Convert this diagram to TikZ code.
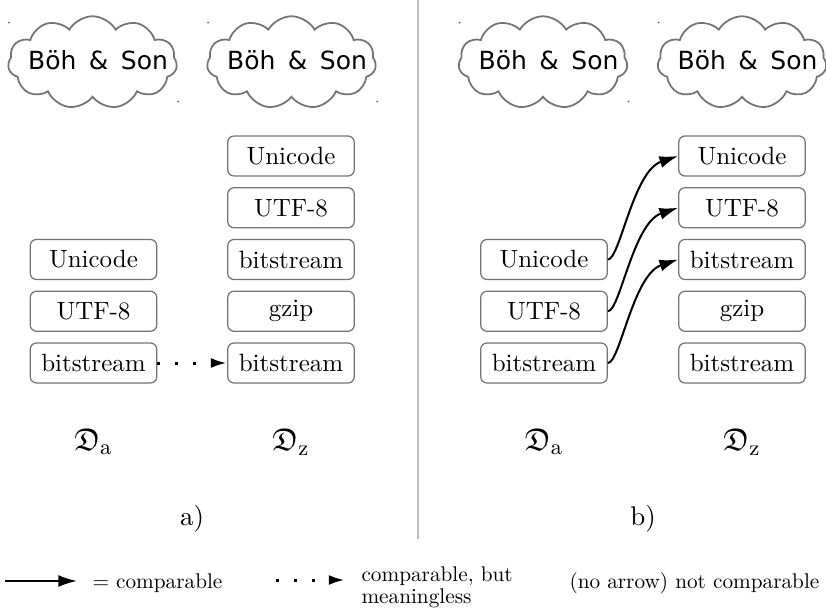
\documentclass[tikz,border=0pt]{standalone}
\usepackage{amssymb}
\usepackage{fontspec}
\newfontfamily\cloudfont{DejaVu Sans}
\usetikzlibrary{shapes.symbols,arrows.meta}
\newcommand{\legscale}[1]{\scalebox{0.85}{#1}}
\begin{document}
\begin{tikzpicture}[x=0.4pt,y=-0.4pt,
  layer/.style={draw=black!55, line width=0.5pt, rounded corners=2.5pt,
    minimum width=50.6pt, minimum height=16pt, inner sep=0pt,
    font=\fontsize{10}{12}\selectfont},
  puff/.style={cloud, cloud puffs=11, cloud puff arc=120, cloud ignores aspect,
    draw=black!55, line width=0.7pt, minimum width=67.6pt, minimum height=37pt, inner sep=0pt},
  brand/.style={font=\cloudfont\fontsize{10}{12}\selectfont, inner sep=0pt},
  cornerdot/.style={circle, fill=black!60, inner sep=0pt, minimum size=0.8pt},
  dlabel/.style={font=\fontsize{12.5}{15}\selectfont},
  panel/.style={font=\fontsize{10.8}{13}\selectfont},
  legtext/.style={font=\fontsize{10}{12}\selectfont, inner sep=0pt},
  cmp/.style={-{Latex[length=7.5pt,width=4.8pt]}, line width=0.8pt},
  nocmp/.style={-{Latex[length=6.5pt,width=4pt]}, line width=1.2pt, dash pattern=on 1.2pt off 6pt},
  sepline/.style={draw=black!25, line width=0.8pt}
]
\useasboundingbox (0,0) rectangle (826,613);

% separator
\draw[sepline] (418,0) -- (418,539);

% clouds
\foreach \cx/\nm in {92.5/ca, 291.5/cb, 543/cc, 742/cd}{
  \node[puff] (\nm) at (\cx,62.5) {};
  \node[brand] (\nm t) at (\cx+5.5,60) {B\"oh\hspace{5pt}\&\hspace{5pt}Son};
  \node[cornerdot] (\nm d1) at (\cx-83.5,22.5) {};
  \node[cornerdot] (\nm d2) at (\cx+85.5,101.5) {};
}

% panel a
\node[layer] (aL1) at (93.5,259.5) {Unicode};
\node[layer] (aL2) at (93.5,311.25) {UTF-8};
\node[layer] (aL3) at (93.5,363) {bitstream};
\node[layer] (aR1) at (291,156) {Unicode};
\node[layer] (aR2) at (291,207.75) {UTF-8};
\node[layer] (aR3) at (291,259.5) {bitstream};
\node[layer] (aR4) at (291,311.25) {gzip};
\node[layer] (aR5) at (291,363) {bitstream};
\draw[nocmp] (aL3.east) -- (aR5.west);

% panel b
\node[layer] (bL1) at (544,259.5) {Unicode};
\node[layer] (bL2) at (544,311.25) {UTF-8};
\node[layer] (bL3) at (544,363) {bitstream};
\node[layer] (bR1) at (742,156) {Unicode};
\node[layer] (bR2) at (742,207.75) {UTF-8};
\node[layer] (bR3) at (742,259.5) {bitstream};
\node[layer] (bR4) at (742,311.25) {gzip};
\node[layer] (bR5) at (742,363) {bitstream};
\draw[cmp] (bL1.east) .. controls +(12,0) and +(-45,15) .. (bR1.west);
\draw[cmp] (bL2.east) .. controls +(12,0) and +(-45,15) .. (bR2.west);
\draw[cmp] (bL3.east) .. controls +(12,0) and +(-45,15) .. (bR3.west);

% labels
\node[dlabel] (da) at (93.5,442) {$\mathfrak{D}_{\mathrm{a}}$};
\node[dlabel] (dz) at (291,442) {$\mathfrak{D}_{\mathrm{z}}$};
\node[dlabel] (db) at (544,442) {$\mathfrak{D}_{\mathrm{a}}$};
\node[dlabel] (dy) at (742,442) {$\mathfrak{D}_{\mathrm{z}}$};
\node[panel] (pa) at (192,519) {a)};
\node[panel] (pb) at (643,519) {b)};

% legend
\coordinate (ls) at (5,581);
\coordinate (le) at (77,581);
\draw[cmp] (ls) -- (le);
\node[legtext, anchor=base west] (l1) at (92,588) {\legscale{$=$ comparable}};
\coordinate (ds) at (276,580);
\coordinate (de) at (345,580);
\draw[nocmp] (ds) -- (de);
\node[legtext, anchor=base west] (l2) at (361,581.7) {\legscale{comparable, but}};
\node[legtext, anchor=base west] (l2b) at (361,603) {\legscale{meaningless}};
\node[legtext, anchor=base west] (l3) at (569,588) {\legscale{(no arrow) not comparable}};
\end{tikzpicture}
\end{document}
